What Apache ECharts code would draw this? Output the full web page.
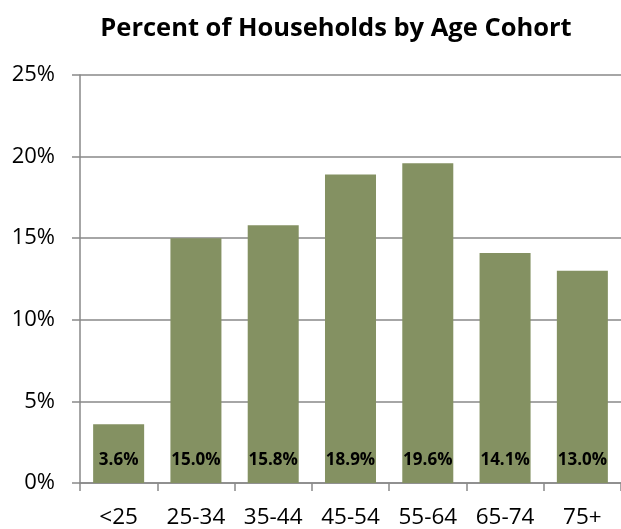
<!DOCTYPE html>
<html>
<head>
<meta charset="utf-8">
<script src="https://cdn.jsdelivr.net/npm/echarts@6/dist/echarts.min.js"></script>
<style>
  html, body { margin: 0; padding: 0; background: #fff; }
  #main { width: 621px; height: 529px; }
</style>
</head>
<body>
<div id="main"></div>
<script>
const cohorts = ["<25", "25-34", "35-44", "45-54", "55-64", "65-74", "75+"];
const shares = [3.6, 15.0, 15.8, 18.9, 19.6, 14.1, 13.0];
const yTicks = [0, 5, 10, 15, 20, 25];

const axisGray = "#898989";
const font = "'Open Sans', sans-serif";

var myChart = echarts.init(document.getElementById("main"));
myChart.setOption({
  animation: false,
  title: {
    text: "Percent of Households by Age Cohort",
    left: 331,
    top: 11,
    textAlign: "center",
    textStyle: { fontFamily: font, fontSize: 25.5, fontWeight: "bold", color: "#000" }
  },
  grid: { left: 80, right: -5, top: 75, bottom: 45, containLabel: false },
  xAxis: {
    type: "category",
    data: cohorts,
    axisLine: { lineStyle: { color: axisGray, width: 1.5 } },
    axisTick: { show: true, length: 8, alignWithLabel: false, lineStyle: { color: axisGray, width: 1.5 } },
    axisLabel: { fontFamily: font, fontSize: 22.5, color: "#000", margin: 23, interval: 0 }
  },
  yAxis: {
    type: "value",
    min: yTicks[0],
    max: yTicks[yTicks.length - 1],
    interval: 5,
    axisLine: { show: true, lineStyle: { color: axisGray, width: 1.5 } },
    axisTick: { show: true, length: 8, lineStyle: { color: axisGray, width: 1.5 } },
    splitLine: { lineStyle: { color: axisGray, width: 1.5 } },
    axisLabel: { fontFamily: font, fontSize: 22, color: "#000", margin: 25, formatter: "{value}%" }
  },
  series: [{
    type: "bar",
    data: shares,
    barCategoryGap: "34%",
    itemStyle: { color: "#849162" },
    label: {
      show: true,
      position: "insideBottom",
      distance: 14,
      formatter: (p) => p.value.toFixed(1) + "%",
      fontFamily: font,
      fontSize: 17,
      fontWeight: "bold",
      color: "#000"
    }
  }]
});
window.onresize = function() { myChart.resize(); };
</script>
</body>
</html>
